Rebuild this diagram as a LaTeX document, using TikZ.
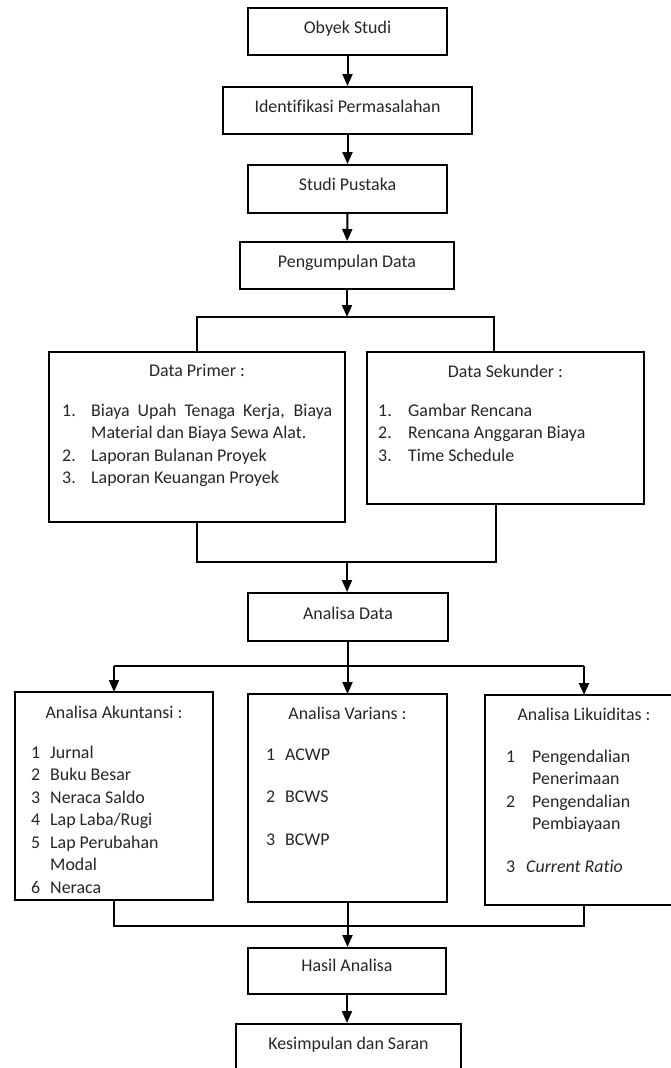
\documentclass[tikz,border=0pt]{standalone}
\usepackage{fontspec}
\setmainfont{Carlito}[Ligatures=NoCommon]
\usetikzlibrary{arrows.meta}
\definecolor{teks-abu}{HTML}{262626}

\begin{document}
\begin{tikzpicture}[x=1pt, y=-1pt,
    every node/.style={font=\fontsize{17.9}{22.5}\selectfont, text=teks-abu},
    kotak/.style={draw, line width=2.2pt, minimum width=#1, inner sep=0pt, text height=25pt, text depth=22pt, anchor=north},
    wadah/.style={draw, line width=2.2pt, inner sep=0pt, outer sep=0pt, anchor=north west},
    isi/.style={inner sep=0pt, anchor=north west},
    garis/.style={line width=2pt},
    panah/.style={line width=2pt, -{Triangle[length=12pt, width=10pt]}}]
    \fill[white] (0, 0) rectangle (670, 1068);
    \useasboundingbox (0, 0) rectangle (670, 1068);
    % alur atas
    \node[kotak=199] (obyek) at (347.5, 7) {Obyek Studi};
    \node[kotak=249] (ident) at (347.5, 86) {Identifikasi Permasalahan};
    \node[kotak=199, text depth=23pt] (pustaka) at (347.5, 164) {Studi Pustaka};
    \node[kotak=214] (kumpul) at (347, 241) {Pengumpulan Data};
    \draw[panah] (obyek) -- (ident);
    \draw[panah] (ident) -- (pustaka);
    \draw[panah] (pustaka) -- (kumpul);
    % data primer dan sekunder
    \node[wadah, minimum width=296, minimum height=170] (primer) at (49, 352) {};
    \node[anchor=base] (primerjudul) at (197, 376) {Data Primer :};
    \node[isi] (primerisi) at (62, 400.25) {\begin{tabular}{@{}p{29pt}@{}l@{}}
      1. & \makebox[241pt][s]{Biaya Upah Tenaga Kerja, Biaya}\\
         & Material dan Biaya Sewa Alat.\\
      2. & Laporan Bulanan Proyek\\
      3. & Laporan Keuangan Proyek
    \end{tabular}};
    \node[wadah, minimum width=277, minimum height=152] (sekunder) at (367, 352) {};
    \node[anchor=base] (sekunderjudul) at (505.5, 377) {Data Sekunder :};
    \node[isi] (sekunderisi) at (378, 400.25) {\begin{tabular}{@{}p{30pt}@{}l@{}}
      1. & Gambar Rencana\\
      2. & Rencana Anggaran Biaya\\
      3. & Time Schedule
    \end{tabular}};
    \coordinate (cabang1) at (347, 317);
    \coordinate (atasB) at (494, 317);
    \draw[panah] (kumpul) -- (cabang1);
    \draw[garis] (primer.north) |- (atasB) -- (atasB |- sekunder.north);
    % analisa data
    \node[kotak=200, text depth=22pt, text height=26pt] (analisa) at (348, 592) {Analisa Data};
    \coordinate (gabung1) at (347, 562);
    \coordinate (bawahB) at (496, 562);
    \draw[garis] (primer.south) |- (bawahB) -- (bawahB |- sekunder.south);
    \draw[panah] (gabung1) -- (gabung1 |- analisa.north);
    % tiga analisa
    \node[wadah, minimum width=198, minimum height=208] (akuntansi) at (15, 692) {};
    \node[anchor=base] (akuntansijudul) at (114, 718) {Analisa Akuntansi :};
    \node[isi] (akuntansiisi) at (31, 742.25) {\begin{tabular}{@{}p{19pt}@{}l@{}}
      1 & Jurnal\\
      2 & Buku Besar\\
      3 & Neraca Saldo\\
      4 & Lap Laba/Rugi\\
      5 & Lap Perubahan\\
        & Modal\\
      6 & Neraca
    \end{tabular}};
    \node[wadah, minimum width=199, minimum height=208] (varians) at (248, 694) {};
    \node[anchor=base] (variansjudul) at (347.5, 719) {Analisa Varians :};
    \node[isi] (variansisi) at (266, 744.25) {\begin{tabular}{@{}p{19pt}@{}l@{}}
      1 & ACWP\\[20pt]
      2 & BCWS\\[20pt]
      3 & BCWP
    \end{tabular}};
    \node[wadah, minimum width=198, minimum height=210] (likuiditas) at (485, 695) {};
    \node[anchor=base] (likuiditasjudul) at (584, 720) {Analisa Likuiditas :};
    \node[isi] (likuiditasisi) at (506, 746.25) {\begin{tabular}{@{}p{26pt}@{}l@{}}
      1 & Pengendalian\\
        & Penerimaan\\
      2 & Pengendalian\\
        & Pembiayaan\\[20pt]
      3 & \hspace*{-6pt}\textit{Current Ratio}
    \end{tabular}};
    \coordinate (cabang2) at (347.5, 666);
    \draw[garis] (analisa.south -| cabang2) -- (cabang2);
    \draw[garis] (akuntansi.north |- cabang2) -- (likuiditas.north |- cabang2);
    \draw[panah] (akuntansi.north |- cabang2) -- (akuntansi.north);
    \draw[panah] (cabang2) -- (cabang2 |- varians.north);
    \draw[panah] (likuiditas.north |- cabang2) -- (likuiditas.north);
    % hasil dan kesimpulan
    \node[kotak=198, text depth=23pt, text height=23pt] (hasil) at (347, 947) {Hasil Analisa};
    \node[kotak=225] (simpul) at (348.5, 1023) {Kesimpulan dan Saran};
    \coordinate (gabung2) at (347.5, 926);
    \draw[garis] (akuntansi.south) |- (likuiditas.south |- gabung2) -- (likuiditas.south);
    \draw[garis] (varians.south) -- (varians.south |- gabung2);
    \draw[panah] (gabung2) -- (gabung2 |- hasil.north);
    \draw[panah] (hasil) -- (hasil |- simpul.north);
\end{tikzpicture}
\end{document}
